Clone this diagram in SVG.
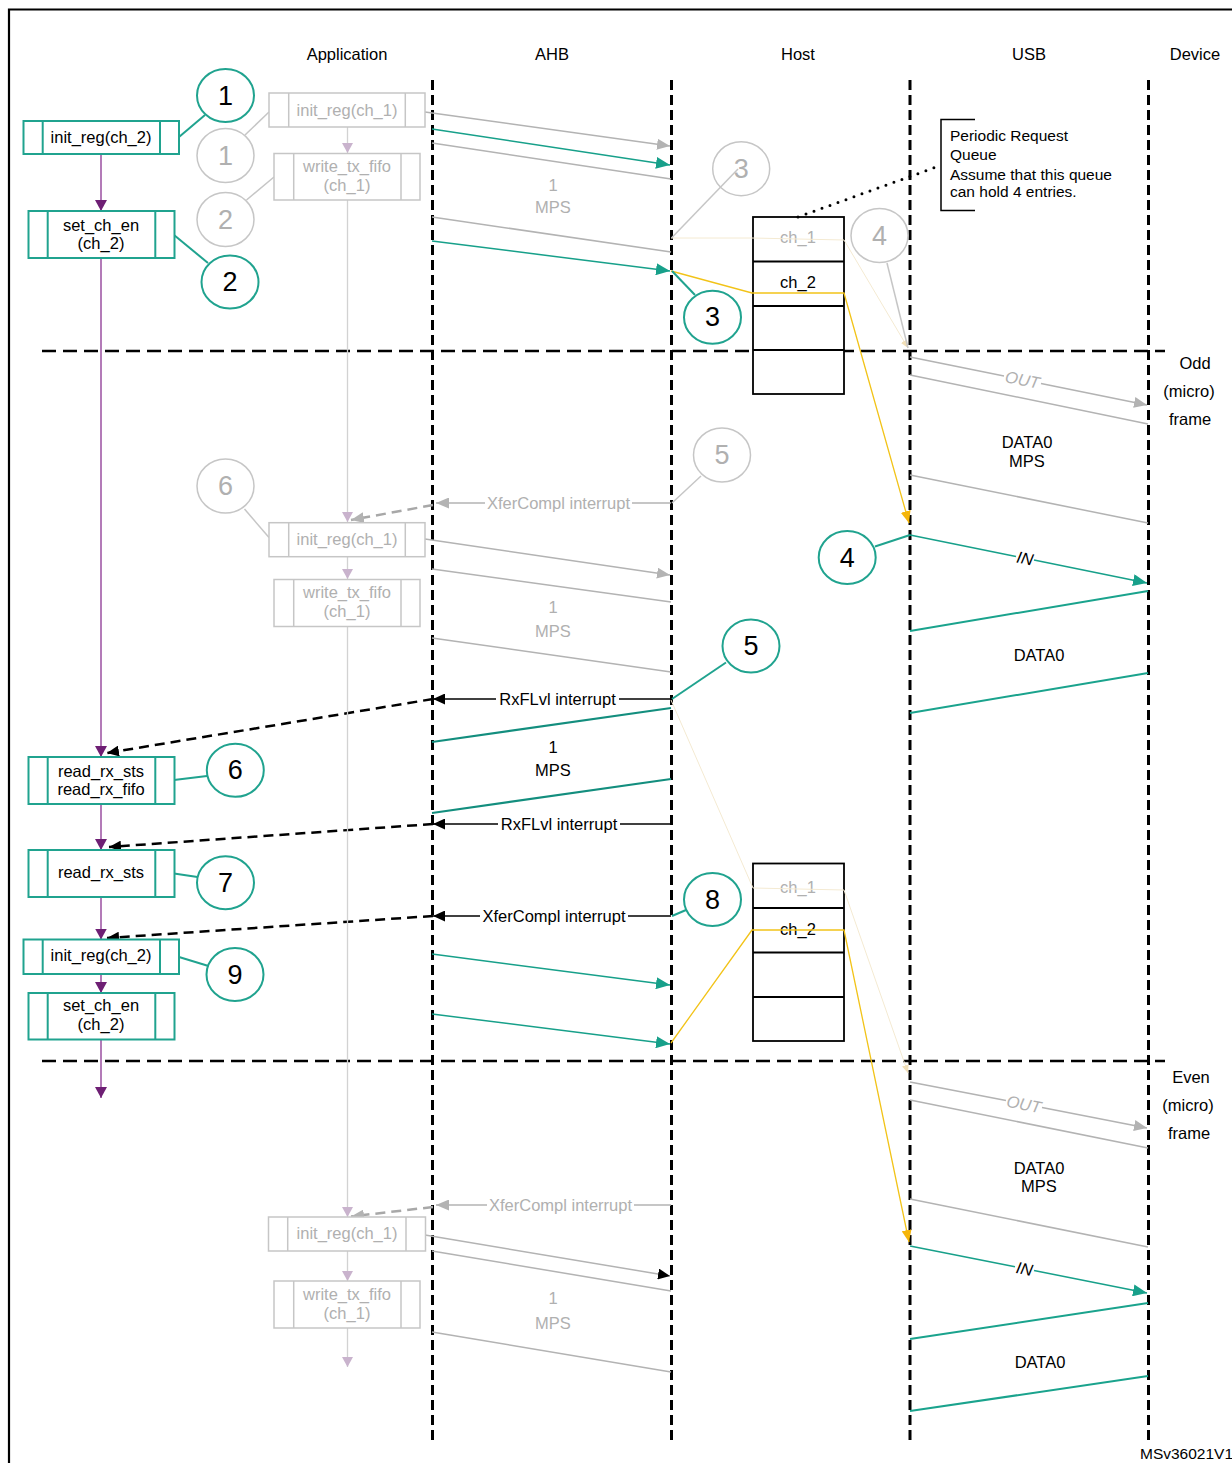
<svg xmlns="http://www.w3.org/2000/svg" width="1232" height="1463" viewBox="0 0 1232 1463">
<defs>
<style>
text{font-family:"Liberation Sans",Arial,Helvetica,sans-serif;font-size:16.5px;fill:#000}
.c{text-anchor:middle}
.gt{fill:#b0b0b0}
.num{font-size:27px;text-anchor:middle}
.ann{font-size:15.5px}
.life{stroke:#000;stroke-width:3;stroke-dasharray:10 5;fill:none}
.sep{stroke:#000;stroke-width:2.5;stroke-dasharray:14 7;fill:none}
.tb{fill:#fff;stroke:#20a38f;stroke-width:2}
.tl{stroke:#20a38f;stroke-width:2;fill:none}
.gb{fill:#fff;stroke:#c6c6c6;stroke-width:1.5}
.gl{stroke:#c6c6c6;stroke-width:1.5;fill:none}
.tc{fill:none;stroke:#20a38f;stroke-width:2}
.gc{fill:none;stroke:#c6c6c6;stroke-width:1.5}
.ga{stroke:#b3b3b3;stroke-width:1.5;fill:none}
.ta{stroke:#17a08a;stroke-width:1.5;fill:none}
.td{stroke:#138e7e;stroke-width:2.2;fill:none}
.ud{stroke:#1aa38d;stroke-width:2;fill:none}
.bl{stroke:#000;stroke-width:1.3;fill:none}
.bd{stroke:#000;stroke-width:2.5;stroke-dasharray:10 6;fill:none}
.gd{stroke:#a8a8a8;stroke-width:2.5;stroke-dasharray:10 6;fill:none}
.pu{stroke:#9a4fa0;stroke-width:1.5;fill:none}
.lv{stroke:#d2d2d2;stroke-width:1.3;fill:none}
.yl{stroke:#f2c318;stroke-width:1.3;fill:none}
.fy{stroke:#f4ead2;stroke-width:1;fill:none}
.hb{fill:#fff;stroke:#000;stroke-width:1.8}
.hl{stroke:#000;stroke-width:1.8}
</style>
<marker id="aT" markerUnits="userSpaceOnUse" markerWidth="14" markerHeight="12" viewBox="0 0 14 12" refX="14" refY="6" orient="auto"><path d="M0,0L14,6L0,12z" fill="#17a08a"/></marker>
<marker id="aG" markerUnits="userSpaceOnUse" markerWidth="13" markerHeight="11" viewBox="0 0 13 11" refX="13" refY="5.5" orient="auto"><path d="M0,0L13,5.5L0,11z" fill="#b3b3b3"/></marker>
<marker id="aB" markerUnits="userSpaceOnUse" markerWidth="12" markerHeight="11" viewBox="0 0 12 11" refX="12" refY="5.5" orient="auto"><path d="M0,0L12,5.5L0,11z" fill="#000"/></marker>
<marker id="aY" markerUnits="userSpaceOnUse" markerWidth="12" markerHeight="10" viewBox="0 0 12 10" refX="12" refY="5" orient="auto"><path d="M0,0L12,5L0,10z" fill="#f5b50a"/></marker>
<marker id="aP" markerUnits="userSpaceOnUse" markerWidth="11" markerHeight="12" viewBox="0 0 11 12" refX="11" refY="6" orient="auto"><path d="M0,0L11,6L0,12z" fill="#6e1f74"/></marker>
<marker id="aL" markerUnits="userSpaceOnUse" markerWidth="10" markerHeight="11" viewBox="0 0 10 11" refX="10" refY="5.5" orient="auto"><path d="M0,0L10,5.5L0,11z" fill="#c9b3cd"/></marker>
<marker id="aF" markerUnits="userSpaceOnUse" markerWidth="8" markerHeight="7" viewBox="0 0 8 7" refX="8" refY="3.5" orient="auto"><path d="M0,0L8,3.5L0,7z" fill="#f1dfb8"/></marker>
</defs>
<rect x="0" y="0" width="1232" height="1463" fill="#fff"/>
<path d="M9,1463V9.5H1232" fill="none" stroke="#000" stroke-width="2.2"/>

<g id="headers">
<text class="c" x="347" y="60">Application</text>
<text class="c" x="552" y="60">AHB</text>
<text class="c" x="798" y="60">Host</text>
<text class="c" x="1029" y="60">USB</text>
<text class="c" x="1195" y="60">Device</text>
<text class="c" x="1195" y="369">Odd</text>
<text class="c" x="1189" y="397">(micro)</text>
<text class="c" x="1190" y="425">frame</text>
<text class="c" x="1191" y="1083">Even</text>
<text class="c" x="1188" y="1111">(micro)</text>
<text class="c" x="1189" y="1139">frame</text>
<text x="1140" y="1459" style="font-size:15.5px">MSv36021V1</text>
</g>

<g id="lifelines">
<line class="life" x1="432.5" y1="80" x2="432.5" y2="1445"/>
<line class="life" x1="671.5" y1="80" x2="671.5" y2="1445"/>
<line class="life" x1="910" y1="80" x2="910" y2="1445"/>
<line class="life" x1="1148.5" y1="80" x2="1148.5" y2="1445"/>
<line class="sep" x1="42" y1="351" x2="1165" y2="351"/>
<line class="sep" x1="42" y1="1061" x2="1165" y2="1061"/>
</g>

<g id="host-queue-1">
<rect class="hb" x="753" y="217" width="91" height="177"/>
<line class="hl" x1="753" y1="261.5" x2="844" y2="261.5"/>
<line class="hl" x1="753" y1="306" x2="844" y2="306"/>
<line class="hl" x1="753" y1="350" x2="844" y2="350"/>
<text class="c gt" x="798" y="243">ch_1</text>
<text class="c" x="798" y="288">ch_2</text>
</g>
<g id="host-queue-2">
<rect class="hb" x="753" y="863.5" width="91" height="177.5"/>
<line class="hl" x1="753" y1="908" x2="844" y2="908"/>
<line class="hl" x1="753" y1="952.5" x2="844" y2="952.5"/>
<line class="hl" x1="753" y1="997" x2="844" y2="997"/>
<text class="c gt" x="798" y="893">ch_1</text>
<text class="c" x="798" y="935">ch_2</text>
</g>

<g id="annotation">
<path d="M975,119.5H941V210.5H975" fill="none" stroke="#000" stroke-width="1.5"/>
<text class="ann" x="950" y="141">Periodic Request</text>
<text class="ann" x="950" y="160">Queue</text>
<text class="ann" x="950" y="180">Assume that this queue</text>
<text class="ann" x="950" y="197">can hold 4 entries.</text>
</g>

<g id="connectors">
<path d="M798,217L939,166" fill="none" stroke="#000" stroke-width="3" stroke-dasharray="0 8.5" stroke-linecap="round"/>
<!-- faint yellow -->
<polyline class="fy" points="671,238 752,238 844,240 908,348" marker-end="url(#aF)"/>
<polyline class="fy" points="671,700 753,888 844,890 908,1073" marker-end="url(#aF)"/>
<!-- AHB top -->
<line class="ga" x1="425" y1="112" x2="670" y2="146" marker-end="url(#aG)"/>
<line class="ta" x1="432" y1="129" x2="670" y2="165" marker-end="url(#aT)"/>
<line class="ga" x1="432" y1="143" x2="671" y2="179"/>
<line class="ga" x1="432" y1="217" x2="671" y2="252"/>
<line class="ta" x1="432" y1="241" x2="670" y2="271" marker-end="url(#aT)"/>
<!-- AHB middle -->
<line class="ga" x1="425" y1="539" x2="670" y2="575" marker-end="url(#aG)"/>
<line class="ga" x1="432" y1="569" x2="671" y2="602"/>
<line class="ga" x1="432" y1="638" x2="671" y2="672"/>
<line class="td" x1="671" y1="708" x2="432" y2="742"/>
<line class="td" x1="671" y1="779" x2="432" y2="813"/>
<line class="ta" x1="432" y1="954" x2="670" y2="985" marker-end="url(#aT)"/>
<line class="ta" x1="432" y1="1014" x2="670" y2="1044" marker-end="url(#aT)"/>
<!-- AHB bottom -->
<line class="ga" x1="425" y1="1235" x2="670" y2="1276" marker-end="url(#aB)"/>
<line class="ga" x1="432" y1="1251" x2="671" y2="1291"/>
<line class="ga" x1="432" y1="1332" x2="671" y2="1372"/>
<!-- USB odd -->
<line class="ga" x1="910" y1="357" x2="1004" y2="376"/>
<line class="ga" x1="1041" y1="383.5" x2="1147" y2="405" marker-end="url(#aG)"/>
<line class="ga" x1="910" y1="375" x2="1148" y2="424"/>
<line class="ga" x1="910" y1="475" x2="1148" y2="523"/>
<line class="ta" x1="910" y1="535" x2="1016" y2="556.4"/>
<line class="ta" x1="1034" y1="560" x2="1147" y2="583" marker-end="url(#aT)"/>
<line class="ud" x1="1148" y1="591" x2="910" y2="631"/>
<line class="ud" x1="1148" y1="673" x2="910" y2="713"/>
<!-- USB even -->
<line class="ga" x1="910" y1="1082" x2="1006" y2="1100.5"/>
<line class="ga" x1="1042" y1="1107.5" x2="1147" y2="1128" marker-end="url(#aG)"/>
<line class="ga" x1="910" y1="1100" x2="1148" y2="1148"/>
<line class="ga" x1="910" y1="1199" x2="1148" y2="1247"/>
<line class="ta" x1="910" y1="1246" x2="1015" y2="1266.8"/>
<line class="ta" x1="1034" y1="1270.5" x2="1147" y2="1293" marker-end="url(#aT)"/>
<line class="ud" x1="1148" y1="1303" x2="910" y2="1339"/>
<line class="ud" x1="1148" y1="1376" x2="910" y2="1411"/>
<!-- interrupts -->
<line class="ga" x1="671" y1="503" x2="632" y2="503"/>
<line class="ga" x1="485" y1="503" x2="436" y2="503" marker-end="url(#aG)"/>
<line class="gd" x1="433" y1="505" x2="351" y2="520" marker-end="url(#aG)"/>
<line class="bl" x1="671" y1="699" x2="619" y2="699"/>
<line class="bl" x1="496" y1="699" x2="433" y2="699" marker-end="url(#aB)"/>
<line class="bd" x1="433" y1="699" x2="107" y2="753" marker-end="url(#aB)"/>
<line class="bl" x1="671" y1="824" x2="620" y2="824"/>
<line class="bl" x1="498" y1="824" x2="433" y2="824" marker-end="url(#aB)"/>
<line class="bd" x1="433" y1="824" x2="109" y2="847" marker-end="url(#aB)"/>
<line class="bl" x1="671" y1="916" x2="628" y2="916"/>
<line class="bl" x1="480" y1="916" x2="433" y2="916" marker-end="url(#aB)"/>
<line class="bd" x1="433" y1="916" x2="107" y2="938" marker-end="url(#aB)"/>
<line class="ga" x1="671" y1="1205" x2="634" y2="1205"/>
<line class="ga" x1="487" y1="1205" x2="436" y2="1205" marker-end="url(#aG)"/>
<line class="gd" x1="433" y1="1207" x2="351" y2="1216.5" marker-end="url(#aG)"/>
<!-- yellow -->
<polyline class="yl" points="671,271 752,293 844,293 909,523" marker-end="url(#aY)"/>
<polyline class="yl" points="671,1043 752,930 844,930 909,1242" marker-end="url(#aY)"/>
<!-- purple -->
<line class="pu" x1="101" y1="154" x2="101" y2="211" marker-end="url(#aP)"/>
<line class="pu" x1="101" y1="258" x2="101" y2="757" marker-end="url(#aP)"/>
<line class="pu" x1="101" y1="804" x2="101" y2="850" marker-end="url(#aP)"/>
<line class="pu" x1="101" y1="897" x2="101" y2="939.5" marker-end="url(#aP)"/>
<line class="pu" x1="101" y1="974" x2="101" y2="993" marker-end="url(#aP)"/>
<line class="pu" x1="101" y1="1039.5" x2="101" y2="1098" marker-end="url(#aP)"/>
<!-- lavender -->
<line class="lv" x1="347.5" y1="127" x2="347.5" y2="153" marker-end="url(#aL)"/>
<line class="lv" x1="347.5" y1="200" x2="347.5" y2="522" marker-end="url(#aL)"/>
<line class="lv" x1="347.5" y1="557" x2="347.5" y2="579" marker-end="url(#aL)"/>
<line class="lv" x1="347.5" y1="627" x2="347.5" y2="1217" marker-end="url(#aL)"/>
<line class="lv" x1="347.5" y1="1251" x2="347.5" y2="1281" marker-end="url(#aL)"/>
<line class="lv" x1="347.5" y1="1328" x2="347.5" y2="1367" marker-end="url(#aL)"/>
<!-- callout leaders -->
<line class="tl" x1="179" y1="137" x2="205" y2="115"/>
<line class="tl" x1="174" y1="235" x2="208" y2="263"/>
<line class="tl" x1="672" y1="271" x2="695" y2="295"/>
<line class="tl" x1="875" y1="546.5" x2="910" y2="535"/>
<line class="tl" x1="672" y1="699" x2="726" y2="662.5"/>
<line class="tl" x1="174" y1="780" x2="207" y2="776"/>
<line class="tl" x1="174" y1="873.5" x2="197.5" y2="877"/>
<line class="tl" x1="672" y1="916" x2="686" y2="910"/>
<line class="tl" x1="179" y1="957" x2="208.5" y2="966"/>
<line class="gl" x1="245" y1="135" x2="269" y2="112"/>
<line class="gl" x1="246.5" y1="200" x2="274" y2="177"/>
<line class="gl" x1="671.5" y1="238" x2="738" y2="169"/>
<line class="gl" x1="887" y1="263" x2="908" y2="348"/>
<line class="gl" x1="672" y1="503" x2="701" y2="476"/>
<line class="gl" x1="244.5" y1="509" x2="269" y2="537.5"/>
</g>

<g id="connector-labels">
<text class="c gt" x="553" y="191">1</text>
<text class="c gt" x="553" y="213">MPS</text>
<text class="c gt" x="553" y="613">1</text>
<text class="c gt" x="553" y="637">MPS</text>
<text class="c" x="553" y="753">1</text>
<text class="c" x="553" y="776">MPS</text>
<text class="c gt" x="553" y="1304">1</text>
<text class="c gt" x="553" y="1329">MPS</text>
<text class="c" x="1027" y="448">DATA0</text>
<text class="c" x="1027" y="467">MPS</text>
<text class="c" x="1039" y="661">DATA0</text>
<text class="c" x="1039" y="1174">DATA0</text>
<text class="c" x="1039" y="1192">MPS</text>
<text class="c" x="1040" y="1368">DATA0</text>
<text class="c gt" x="558.5" y="509">XferCompl interrupt</text>
<text class="c" x="557.5" y="705">RxFLvl interrupt</text>
<text class="c" x="559" y="830">RxFLvl interrupt</text>
<text class="c" x="554" y="922">XferCompl interrupt</text>
<text class="c gt" x="560.5" y="1211">XferCompl interrupt</text>
<text class="c gt" x="1022.5" y="385.5" font-style="italic" transform="rotate(11.4 1022.5 379.8)">OUT</text>
<text class="c" x="1025" y="564" font-style="italic" transform="rotate(11.4 1025 558.2)">IN</text>
<text class="c gt" x="1024" y="1110" font-style="italic" transform="rotate(11 1024 1104)">OUT</text>
<text class="c" x="1024.5" y="1274.5" font-style="italic" transform="rotate(11.2 1024.5 1268.7)">IN</text>
</g>

<g id="app-init-reg-ch2-a">
<rect class="tb" x="23.5" y="121" width="155.5" height="33"/>
<line class="tl" x1="42.7" y1="121" x2="42.7" y2="154"/><line class="tl" x1="160" y1="121" x2="160" y2="154"/>
<text class="c" x="101" y="143">init_reg(ch_2)</text>
</g>
<g id="app-set-ch-en-a">
<rect class="tb" x="28.5" y="211" width="146" height="47"/>
<line class="tl" x1="47.7" y1="211" x2="47.7" y2="258"/><line class="tl" x1="155.3" y1="211" x2="155.3" y2="258"/>
<text class="c" x="101" y="231">set_ch_en</text>
<text class="c" x="101" y="249">(ch_2)</text>
</g>
<g id="app-read-rx-sts-fifo">
<rect class="tb" x="28.5" y="757" width="146" height="47"/>
<line class="tl" x1="47.7" y1="757" x2="47.7" y2="804"/><line class="tl" x1="155.3" y1="757" x2="155.3" y2="804"/>
<text class="c" x="101" y="777">read_rx_sts</text>
<text class="c" x="101" y="795">read_rx_fifo</text>
</g>
<g id="app-read-rx-sts">
<rect class="tb" x="28.5" y="850" width="146" height="47"/>
<line class="tl" x1="47.7" y1="850" x2="47.7" y2="897"/><line class="tl" x1="155.3" y1="850" x2="155.3" y2="897"/>
<text class="c" x="101" y="878">read_rx_sts</text>
</g>
<g id="app-init-reg-ch2-b">
<rect class="tb" x="23.5" y="939.5" width="155.5" height="34.5"/>
<line class="tl" x1="42.7" y1="939.5" x2="42.7" y2="974"/><line class="tl" x1="160" y1="939.5" x2="160" y2="974"/>
<text class="c" x="101" y="961">init_reg(ch_2)</text>
</g>
<g id="app-set-ch-en-b">
<rect class="tb" x="28.5" y="993" width="146" height="46.5"/>
<line class="tl" x1="47.7" y1="993" x2="47.7" y2="1039.5"/><line class="tl" x1="155.3" y1="993" x2="155.3" y2="1039.5"/>
<text class="c" x="101" y="1011">set_ch_en</text>
<text class="c" x="101" y="1030">(ch_2)</text>
</g>

<g id="app-init-reg-ch1-a">
<rect class="gb" x="269" y="93" width="156" height="34"/>
<line class="gl" x1="288.7" y1="93" x2="288.7" y2="127"/><line class="gl" x1="405.3" y1="93" x2="405.3" y2="127"/>
<text class="c gt" x="347" y="116">init_reg(ch_1)</text>
</g>
<g id="app-write-tx-fifo-a">
<rect class="gb" x="274" y="153.5" width="146" height="46.5"/>
<line class="gl" x1="293.7" y1="153.5" x2="293.7" y2="200"/><line class="gl" x1="401" y1="153.5" x2="401" y2="200"/>
<text class="c gt" x="347" y="171.5">write_tx_fifo</text>
<text class="c gt" x="347" y="190.5">(ch_1)</text>
</g>
<g id="app-init-reg-ch1-b">
<rect class="gb" x="269" y="522.7" width="156" height="34"/>
<line class="gl" x1="288.7" y1="522.7" x2="288.7" y2="556.7"/><line class="gl" x1="405.3" y1="522.7" x2="405.3" y2="556.7"/>
<text class="c gt" x="347" y="545">init_reg(ch_1)</text>
</g>
<g id="app-write-tx-fifo-b">
<rect class="gb" x="274" y="579.5" width="146" height="47"/>
<line class="gl" x1="293.7" y1="579.5" x2="293.7" y2="626.5"/><line class="gl" x1="401" y1="579.5" x2="401" y2="626.5"/>
<text class="c gt" x="347" y="597.5">write_tx_fifo</text>
<text class="c gt" x="347" y="617">(ch_1)</text>
</g>
<g id="app-init-reg-ch1-c">
<rect class="gb" x="268.5" y="1217" width="157" height="34"/>
<line class="gl" x1="287.7" y1="1217" x2="287.7" y2="1251"/><line class="gl" x1="406" y1="1217" x2="406" y2="1251"/>
<text class="c gt" x="347" y="1239">init_reg(ch_1)</text>
</g>
<g id="app-write-tx-fifo-c">
<rect class="gb" x="274" y="1281" width="146" height="47"/>
<line class="gl" x1="293.7" y1="1281" x2="293.7" y2="1328"/><line class="gl" x1="401" y1="1281" x2="401" y2="1328"/>
<text class="c gt" x="347" y="1300">write_tx_fifo</text>
<text class="c gt" x="347" y="1319">(ch_1)</text>
</g>

<g id="step-1"><ellipse class="tc" cx="225.5" cy="95.5" rx="28.5" ry="26.5"/><text class="num" x="225.5" y="104.5">1</text></g>
<g id="step-2"><ellipse class="tc" cx="230" cy="282" rx="28.5" ry="26.5"/><text class="num" x="230" y="291">2</text></g>
<g id="step-3"><ellipse class="tc" cx="712.5" cy="317.3" rx="28.5" ry="26.5"/><text class="num" x="712.5" y="326.3">3</text></g>
<g id="step-4"><ellipse class="tc" cx="847.2" cy="557.5" rx="28.5" ry="26.5"/><text class="num" x="847.2" y="566.5">4</text></g>
<g id="step-5"><ellipse class="tc" cx="751" cy="646" rx="28.5" ry="26.5"/><text class="num" x="751" y="655">5</text></g>
<g id="step-6"><ellipse class="tc" cx="235.3" cy="770.3" rx="28.5" ry="26.5"/><text class="num" x="235.3" y="779.3">6</text></g>
<g id="step-7"><ellipse class="tc" cx="225.5" cy="882.7" rx="28.5" ry="26.5"/><text class="num" x="225.5" y="891.7">7</text></g>
<g id="step-8"><ellipse class="tc" cx="712.5" cy="899.5" rx="28.5" ry="26.5"/><text class="num" x="712.5" y="908.5">8</text></g>
<g id="step-9"><ellipse class="tc" cx="235" cy="974.5" rx="28.5" ry="26.5"/><text class="num" x="235" y="983.5">9</text></g>

<g id="step-g1"><ellipse class="gc" cx="225.5" cy="155.5" rx="28.5" ry="27"/><text class="num gt" x="225.5" y="164.5">1</text></g>
<g id="step-g2"><ellipse class="gc" cx="225.5" cy="219.5" rx="28.5" ry="27"/><text class="num gt" x="225.5" y="228.5">2</text></g>
<g id="step-g3"><ellipse class="gc" cx="741.2" cy="168.7" rx="28.5" ry="27"/><text class="num gt" x="741.2" y="177.7">3</text></g>
<g id="step-g4"><ellipse class="gc" cx="879.5" cy="235.5" rx="28.5" ry="27"/><text class="num gt" x="879.5" y="244.5">4</text></g>
<g id="step-g5"><ellipse class="gc" cx="722" cy="455" rx="28.5" ry="27"/><text class="num gt" x="722" y="464">5</text></g>
<g id="step-g6"><ellipse class="gc" cx="225.5" cy="486" rx="28.5" ry="27"/><text class="num gt" x="225.5" y="495">6</text></g>
</svg>
